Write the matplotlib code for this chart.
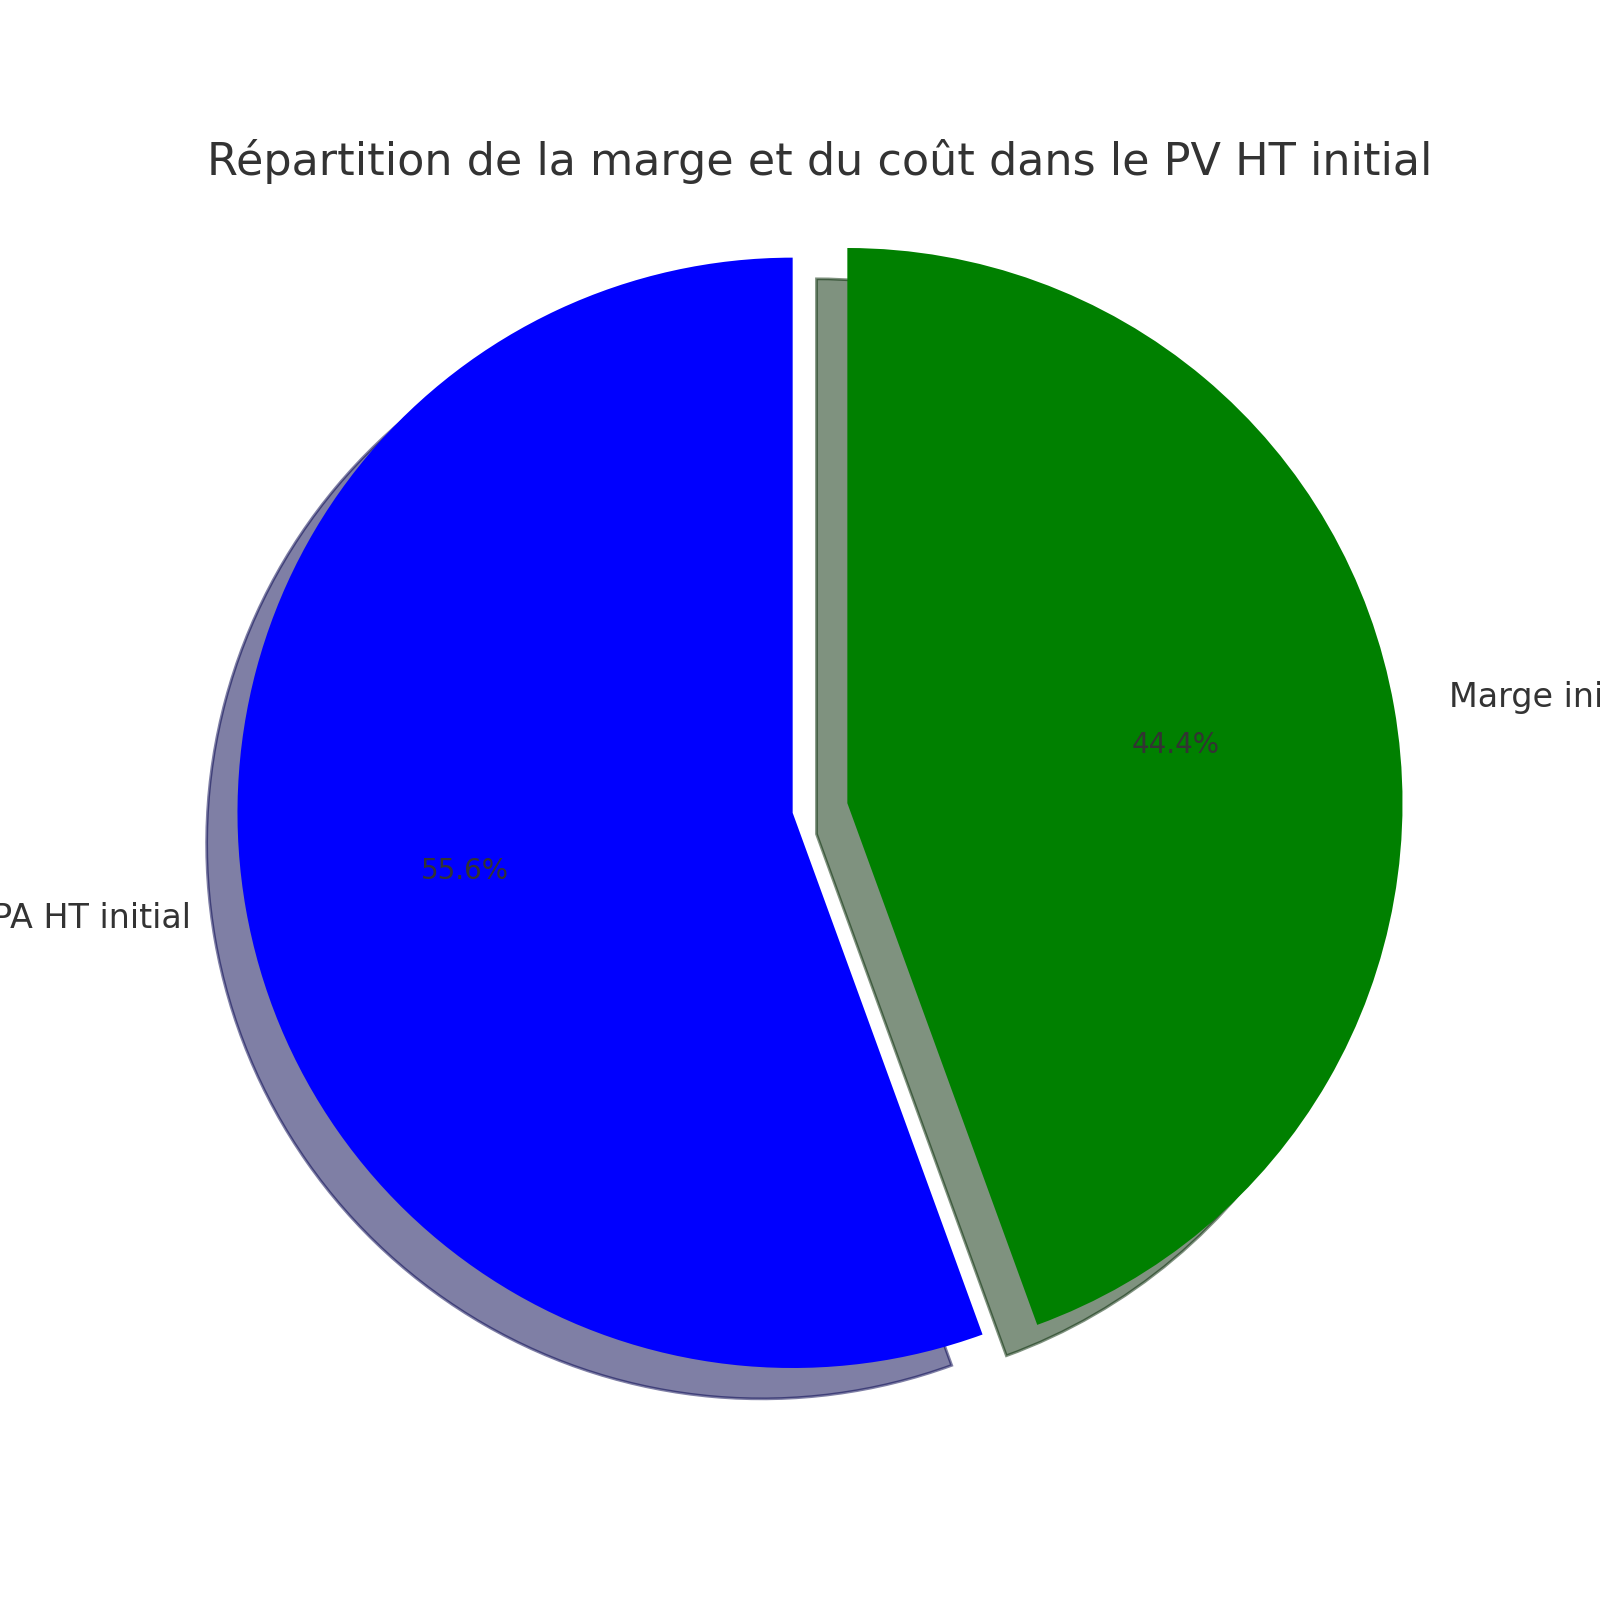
import matplotlib.pyplot as plt

# Données : coût d'achat et marge dans le prix de vente HT
labels = ['PA HT initial', 'Marge initiale']
values = [100, 80]
colors = ['blue', 'green']
explode = [0, 0.1]

plt.rcParams['text.color'] = '#333333'

fig = plt.figure(figsize=(8, 8), dpi=200)
wedges, texts, autotexts = plt.pie(values, labels=labels, colors=colors,
                                   explode=explode, autopct='%1.1f%%',
                                   shadow=True, startangle=90)
for t in texts:
    t.set_fontsize(12)
for t in autotexts:
    t.set_fontsize(10)

plt.title('Répartition de la marge et du coût dans le PV HT initial', fontsize=16)
plt.axis('equal')

plt.savefig('out.png', dpi=200)
